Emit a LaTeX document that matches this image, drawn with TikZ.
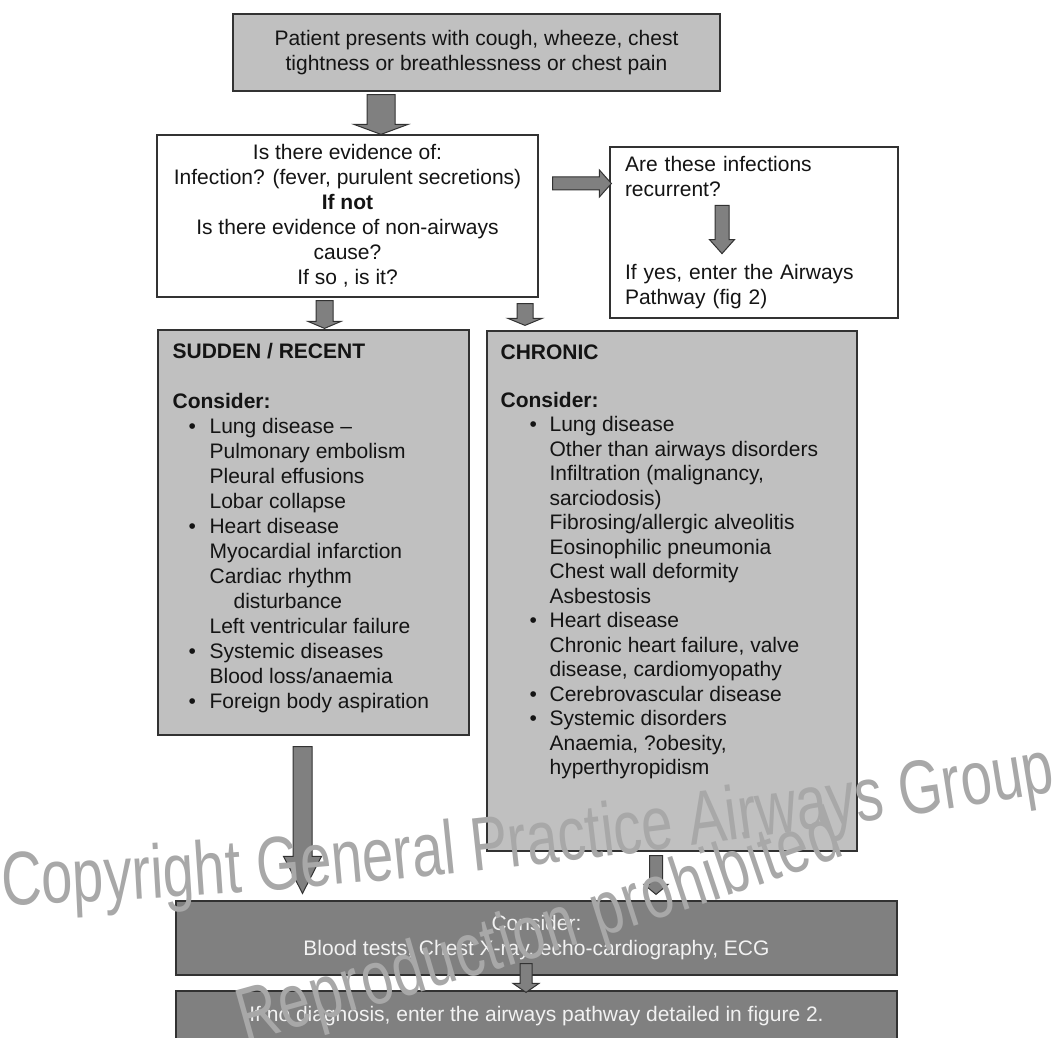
\documentclass[tikz,border=0pt]{standalone}
\usepackage{fontspec}
\setmainfont{Liberation Sans}
\newfontfamily\wmfamily[FakeStretch=0.74]{Liberation Sans}
\usepackage{xcolor}
\usepackage{tikz}
\usetikzlibrary{calc,decorations.text}
\definecolor{ink}{RGB}{20,20,20}
\definecolor{edge}{RGB}{50,50,50}
\definecolor{paleg}{RGB}{192,192,192}
\definecolor{darkg}{RGB}{128,128,128}
\definecolor{lighttext}{RGB}{242,242,242}
\definecolor{wmgray}{RGB}{168,168,168}
\newcommand{\bodyfont}{\fontsize{21}{25}\selectfont}
\newcommand{\wmfont}{\wmfamily\fontsize{76}{80}\selectfont\color{wmgray}}
\newcommand{\listbullet}[2]{\hspace*{#1}\makebox[#2][l]{\textbullet}}
\tikzset{
  whitebox/.style={draw=edge,fill=white,line width=1.2pt,inner sep=0pt,
    align=center,text=ink,font=\bodyfont},
  greybox/.style={whitebox,fill=paleg},
  darkbox/.style={whitebox,fill=darkg,text=lighttext},
  listtext/.style={inner sep=0pt,align=left,text=ink,anchor=north west},
  blockarrow/.style={fill=darkg,draw=edge,line width=1pt,line join=miter}
}
% block arrows: from, to, x (or y), half shaft, half head, head length
\newcommand{\blockdown}[6]{%
  \filldraw[blockarrow] let \p1=(#1), \p2=(#2), \p3=(#3,0) in
    (\x3-#4,\y1) -- (\x3+#4,\y1) -- (\x3+#4,\y2+#6) -- (\x3+#5,\y2+#6)
    -- (\x3,\y2) -- (\x3-#5,\y2+#6) -- (\x3-#4,\y2+#6) -- cycle;}
\newcommand{\blockright}[6]{%
  \filldraw[blockarrow] let \p1=(#1), \p2=(#2), \p3=(0,#3) in
    (\x1,\y3+#4) -- (\x2-#6,\y3+#4) -- (\x2-#6,\y3+#5) -- (\x2,\y3)
    -- (\x2-#6,\y3-#5) -- (\x2-#6,\y3-#4) -- (\x1,\y3-#4) -- cycle;}

\begin{document}
\begin{tikzpicture}[x=1pt,y=-1pt]
  \useasboundingbox (0,0) rectangle (1058,1038);

  \node[greybox,minimum width=487,minimum height=77] (top) at (476.5,52.5)
    {Patient presents with cough, wheeze, chest\\tightness or breathlessness or chest pain};
  \node[whitebox,minimum width=381,minimum height=162] (quest) at (347.5,216)
    {Is there evidence of:\\Infection? (fever, purulent secretions)\\\textbf{If not}\\
     Is there evidence of non-airways\\cause?\\If so , is it?};
  \node[whitebox,minimum width=288,minimum height=171,text width=258,align=left]
    (recur) at (754,232.5)
    {Are these infections\\recurrent?\\[58pt]If yes, enter the Airways\\Pathway (fig 2)};

  \node[greybox,minimum width=311,minimum height=405] (sudden) at (313.5,532.5) {};
  \node[listtext,font=\bodyfont] (suddentxt) at ($(sudden.north west)+(15,14)$) {%
    \textbf{SUDDEN / RECENT}\\[25pt]
    \textbf{Consider:}\\
    \listbullet{16pt}{21pt}Lung disease --\\
    \hspace*{37pt}Pulmonary embolism\\
    \hspace*{37pt}Pleural effusions\\
    \hspace*{37pt}Lobar collapse\\
    \listbullet{16pt}{21pt}Heart disease\\
    \hspace*{37pt}Myocardial infarction\\
    \hspace*{37pt}Cardiac rhythm\\
    \hspace*{61pt}disturbance\\
    \hspace*{37pt}Left ventricular failure\\
    \listbullet{16pt}{21pt}Systemic diseases\\
    \hspace*{37pt}Blood loss/anaemia\\
    \listbullet{16pt}{21pt}Foreign body aspiration};

  \node[greybox,minimum width=370,minimum height=520] (chronic) at (672,591) {};
  \node[listtext,font=\fontsize{21}{24.5}\selectfont] (chronictxt)
    at ($(chronic.north west)+(14,14)$) {%
    \textbf{CHRONIC}\\[23.5pt]
    \textbf{Consider:}\\
    \listbullet{29pt}{20pt}Lung disease\\
    \hspace*{49pt}Other than airways disorders\\
    \hspace*{49pt}Infiltration (malignancy,\\
    \hspace*{49pt}sarciodosis)\\
    \hspace*{49pt}Fibrosing/allergic alveolitis\\
    \hspace*{49pt}Eosinophilic pneumonia\\
    \hspace*{49pt}Chest wall deformity\\
    \hspace*{49pt}Asbestosis\\
    \listbullet{29pt}{20pt}Heart disease\\
    \hspace*{49pt}Chronic heart failure, valve\\
    \hspace*{49pt}disease, cardiomyopathy\\
    \listbullet{29pt}{20pt}Cerebrovascular disease\\
    \listbullet{29pt}{20pt}Systemic disorders\\
    \hspace*{49pt}Anaemia, ?obesity,\\
    \hspace*{49pt}hyperthyropidism};

  \node[darkbox,minimum width=721,minimum height=74] (consider) at (536.5,938)
    {Consider:\\Blood tests, Chest X-ray, echo-cardiography, ECG};
  \node[darkbox,minimum width=721,minimum height=51] (final) at (536.5,1016.5)
    {If no diagnosis, enter the airways pathway detailed in figure 2.};

  \blockdown{$(top.south)+(0,3)$}{quest.north}{381}{14}{27}{10}
  \blockright{$(quest.east)+(14,0)$}{$(recur.west)+(2,0)$}{183.5}{6.5}{13.5}{12}
  \blockdown{$(recur.north)+(0,59)$}{$(recur.south)+(0,-65)$}{722}{7}{12.5}{14}
  \blockdown{$(quest.south)+(0,3)$}{$(sudden.north)+(0,-1)$}{324.5}{8.5}{16.5}{7}
  \blockdown{$(quest.south)+(0,6)$}{$(chronic.north)+(0,-5)$}{525}{8}{17}{7}
  \blockdown{$(sudden.south)+(0,11)$}{$(consider.north)+(0,-7)$}{302.5}{9.5}{19}{37}
  \blockdown{$(chronic.south)+(0,4)$}{$(consider.north)+(0,-6)$}{656}{6.5}{12}{10}
  \blockdown{$(consider.south)+(0,-12)$}{$(final.north)+(0,2)$}{526}{6}{13}{9}

  \path[decorate,decoration={text along path,text align={fit to path},
      text={|\wmfont|Copyright General Practice Airways Group}}]
    (2,905) .. controls (330,895) and (700,850) .. (1056,792);
  \path[decorate,decoration={text along path,text align={fit to path},
      text={|\wmfont|Reproduction prohibited}}]
    (245,1042) .. controls (450,985) and (650,925) .. (846,855);
\end{tikzpicture}
\end{document}
